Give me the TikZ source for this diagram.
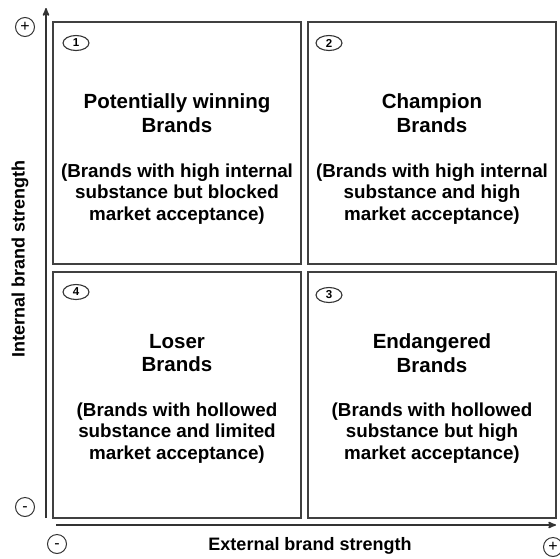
\documentclass[tikz,border=0pt]{standalone}
\usepackage{fontspec}
\setmainfont{Liberation Sans}
\usetikzlibrary{arrows}
\usetikzlibrary{positioning}
\usetikzlibrary{shapes.geometric}

\newcommand{\lowdash}{\raisebox{-4.4pt}[0pt][0pt]{-}}

\begin{document}
\begin{tikzpicture}[x=1pt,y=-1pt,>=stealth',
                    quad node/.style={rectangle,draw=black!75,line width=1.4pt,minimum width=248pt,inner sep=0pt},
                    num node/.style={ellipse,draw=black!80,line width=1.1pt,minimum width=26pt,minimum height=15pt,inner sep=0pt,font=\bfseries\fontsize{11.5}{11.5}\selectfont},
                    sign node/.style={circle,draw=black!80,line width=1pt,minimum size=19pt,inner sep=0pt,font=\fontsize{16}{16}\selectfont},
                    title node/.style={align=center,font=\bfseries\fontsize{20.5}{23.5}\selectfont},
                    desc node/.style={align=center,font=\bfseries\fontsize{18.8}{21.5}\selectfont},
                    axis label/.style={font=\bfseries\fontsize{18}{18}\selectfont}]

  \useasboundingbox (0,0) rectangle (560,558);

  % quadrants
  \node[quad node,minimum height=242pt](1) at (177,143) {};
  \node[quad node,minimum height=242pt](2) at (432,143) {};
  \node[quad node,minimum height=246pt](3) at (432,395) {};
  \node[quad node,minimum height=246pt](4) at (177,395) {};

  \node[num node](n1) at (76,43) {1};
  \node[num node](n2) at (329,43) {2};
  \node[num node](n3) at (329,295) {3};
  \node[num node](n4) at (76,292) {4};

  \node[title node](t1) at (177,113) {Potentially winning\\Brands};
  \node[desc node](d1) at (177,194) {(Brands with high internal\\substance but blocked\\market acceptance)};
  \node[title node](t2) at (432,113) {Champion\\Brands};
  \node[desc node](d2) at (432,194) {(Brands with high internal\\substance and high\\market acceptance)};
  \node[title node](t3) at (432,353) {Endangered\\Brands};
  \node[desc node](d3) at (432,433) {(Brands with hollowed\\substance but high\\market acceptance)};
  \node[title node](t4) at (177,353) {Loser\\Brands};
  \node[desc node](d4) at (177,433) {(Brands with hollowed\\substance and limited\\market acceptance)};

  % axes
  \coordinate (yorig) at (46,518);
  \coordinate (ytop) at (46,8);
  \coordinate (xorig) at (56,525);
  \coordinate (xend) at (556,525);
  \draw[->,black!80,line width=1.6pt] (yorig) -- (ytop);
  \draw[->,black!80,line width=1.6pt] (xorig) -- (xend);

  \node[axis label,rotate=90](ylab) at (20,259) {Internal brand strength};
  \node[axis label](xlab) at (310,546) {External brand strength};

  \node[sign node](yplus) at (25,27) {+};
  \node[sign node](yminus) at (25,507) {\lowdash};
  \node[sign node](xminus) at (57,544) {\lowdash};
  \node[sign node](xplus) at (553,547) {+};
\end{tikzpicture}
\end{document}
